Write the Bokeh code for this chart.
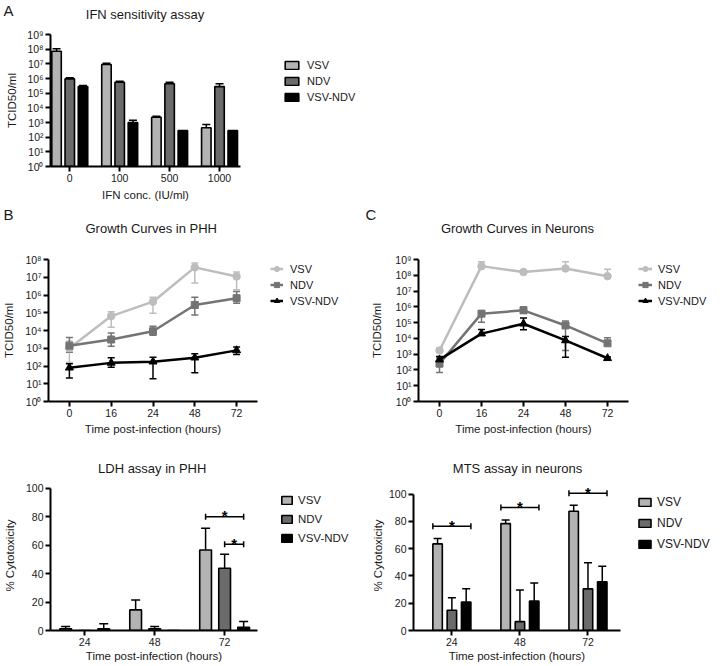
from bokeh.plotting import figure
from bokeh.models import (ColumnDataSource, Whisker, TeeHead, Label, Legend, LegendItem,
                          FixedTicker, Range1d)
from bokeh.layouts import column, row
from bokeh.embed import file_html
from bokeh.resources import INLINE
from bokeh.core.properties import value

# ---------------- data ----------------
series_names = ["VSV", "NDV", "VSV-NDV"]

ifn_conc = ["0", "100", "500", "1000"]
ifn_vsv = [7.2e7, 9.0e6, 2.3e3, 4.4e2]
ifn_vsv_hi = [1.05e8, 1.1e7, 2.7e3, 7.2e2]
ifn_ndv = [9.5e5, 5.6e5, 4.4e5, 2.8e5]
ifn_ndv_hi = [1.12e6, 6.5e5, 5.6e5, 4.4e5]
ifn_vn = [2.8e5, 1.0e3, 2.8e2, 2.8e2]
ifn_vn_hi = [3.3e5, 1.4e3, 2.8e2, 2.8e2]

hours = ["0", "16", "24", "48", "72"]
phh_vsv = [1.0e3, 6.5e4, 4.2e5, 3.6e7, 1.1e7]
phh_vsv_hi = [2.5e3, 1.15e5, 7.4e5, 6.3e7, 2.0e7]
phh_vsv_lo = [1.6e2, 1.5e4, 9.3e4, 4.7e6, 1.95e6]
phh_ndv = [1.4e3, 3.1e3, 9.1e3, 2.75e5, 6.6e5]
phh_ndv_hi = [4.0e3, 7.2e3, 1.74e4, 7.4e5, 1.55e6]
phh_ndv_lo = [6.0e2, 1.3e3, 5.4e3, 7.4e4, 3.4e5]
phh_vn = [80, 150, 175, 295, 760]
phh_vn_hi = [132, 295, 316, 490, 1175]
phh_vn_lo = [21, 85, 19, 41, 447]

neu_vsv = [1.7e3, 3.8e8, 1.6e8, 2.7e8, 8.7e7]
neu_vsv_hi = [2.5e3, 7.1e8, 1.9e8, 7.1e8, 2.45e8]
neu_vsv_lo = [1.7e3, 3.8e8, 1.35e8, 2.7e8, 8.7e7]
neu_ndv = [2.5e2, 3.7e5, 6.0e5, 6.6e4, 4.9e3]
neu_ndv_hi = [5.8e2, 5.4e5, 9.8e5, 1.26e5, 1.1e4]
neu_ndv_lo = [68, 1.07e5, 4.0e5, 1.7e3, 4.9e3]
neu_vn = [4.5e2, 2.0e4, 8.5e4, 7.4e3, 5.5e2]
neu_vn_hi = [7.1e2, 3.7e4, 1.95e5, 1.3e4, 6.5e2]
neu_vn_lo = [2.2e2, 1.6e4, 3.5e4, 6.3e2, 4.3e2]

cyto_hours = ["24", "48", "72"]
ldh_vsv = [1.2, 14.5, 56.7]
ldh_vsv_hi = [2.8, 21.5, 71.9]
ldh_ndv = [0.0, 1.2, 43.8]
ldh_ndv_hi = [0.0, 2.8, 53.6]
ldh_vn = [1.2, 0.0, 2.3]
ldh_vn_hi = [4.7, 0.0, 6.3]
ldh_sig_group = [2, 2]
ldh_sig_pair = [(0, 2), (1, 2)]
ldh_sig_level = [80.1, 60.7]

mts_vsv = [63.5, 78.4, 87.5]
mts_vsv_hi = [67.4, 81.0, 91.8]
mts_ndv = [14.9, 6.5, 30.5]
mts_ndv_hi = [24.0, 29.7, 49.6]
mts_vn = [20.9, 21.6, 35.7]
mts_vn_hi = [30.7, 34.8, 47.2]
mts_sig_group = [0, 1, 2]
mts_sig_level = [76.5, 90.2, 100.7]

panel_letters = ["A", "B", "C"]
panel_titles = ["IFN sensitivity assay", "Growth Curves in PHH", "Growth Curves in Neurons",
                "LDH assay in PHH", "MTS assay in neurons"]

# ---------------- style ----------------
FONT = "Liberation Sans"
TXT = "#1a1a1a"
BAR_COLORS = ["#b3b3b3", "#6b6b6b", "#000000"]
LINE_COLORS = ["#bdbdbd", "#747474", "#000000"]
MARKERS = [("circle", 7.5), ("square", 7), ("triangle", 8)]
SUP = "⁰¹²³⁴⁵⁶⁷⁸⁹"


def blank_fig(w, h, bl=0, bt=0, bb=0, xr=None, yr=None):
    p = figure(width=w, height=h, x_range=xr or Range1d(0, w), y_range=yr or Range1d(h, 0),
               output_backend="svg", toolbar_location=None,
               x_axis_location=None, y_axis_location=None, min_border=0,
               min_border_left=bl, min_border_top=bt, min_border_bottom=bb)
    p.title_location = None
    p.grid.visible = False
    p.outline_line_color = None
    return p


def make_fig(w, h, bl, bt, br, bb, xr, yr, log):
    p = figure(width=w, height=h, x_range=xr, y_range=yr,
               y_axis_type="log" if log else "linear",
               output_backend="svg", toolbar_location=None,
               min_border_left=bl, min_border_top=bt, min_border_right=br, min_border_bottom=bb)
    p.title_location = None
    p.grid.visible = False
    p.outline_line_color = None
    for ax in (p.xaxis[0], p.yaxis[0]):
        ax.axis_line_width = 2
        ax.axis_line_color = "black"
        ax.major_tick_line_width = 2
        ax.major_tick_line_color = "black"
        ax.major_tick_out = 5
        ax.major_tick_in = 0
        ax.minor_tick_line_color = None
        ax.major_label_standoff = 2
        ax.major_label_text_font = FONT
        ax.major_label_text_font_size = "10.5px"
        ax.major_label_text_color = TXT
        ax.axis_label_text_font = FONT
        ax.axis_label_text_font_size = "11.5px"
        ax.axis_label_text_font_style = "normal"
        ax.axis_label_text_color = TXT
    return p


def log_y(p, nmax):
    ticks = [10 ** i for i in range(nmax + 1)]
    p.yaxis.ticker = FixedTicker(ticks=ticks, minor_ticks=[])
    p.yaxis.major_label_overrides = {10 ** i: "10" + SUP[i] for i in range(nmax + 1)}


def cat_x(p, cats):
    p.xaxis.ticker = FixedTicker(ticks=list(range(len(cats))), minor_ticks=[])
    p.xaxis.major_label_overrides = {i: c for i, c in enumerate(cats)}


def bar_glyph(p, src, color, width, bottom):
    return p.vbar(x="x", top="top", bottom=bottom, width=width, source=src,
                  fill_color=color, line_color="black", line_width=1.6)


def bars(p, cats, vals_list, hi_list, offsets, width, bottom, cap):
    srcs = []
    for vals, hi, color, off in zip(vals_list, hi_list, BAR_COLORS, offsets):
        xs = [i + off for i in range(len(cats))]
        src = ColumnDataSource(dict(x=xs, top=vals))
        bar_glyph(p, src, color, width, bottom)
        srcs.append(src)
        keep = [i for i in range(len(cats)) if hi[i] > vals[i]]
        if keep:
            ws = ColumnDataSource(dict(x=[xs[i] for i in keep], lo=[vals[i] for i in keep],
                                       hi=[hi[i] for i in keep]))
            p.add_layout(Whisker(base="x", lower="lo", upper="hi", source=ws,
                                 line_color="black", line_width=1.5,
                                 upper_head=TeeHead(size=cap, line_color="black", line_width=1.5),
                                 lower_head=None))
    return srcs


def line_glyphs(p, src, color, mk, ms):
    l = p.line("x", "y", source=src, line_color=color, line_width=2.5)
    m = p.scatter("x", "y", source=src, marker=mk, size=ms, fill_color=color, line_color=color)
    return [l, m]


def lines(p, cats, vals_list, hi_list, lo_list):
    xs = list(range(len(cats)))
    srcs = []
    for vals, hi, lo, color, (mk, ms) in zip(vals_list, hi_list, lo_list, LINE_COLORS, MARKERS):
        for a, b, up in ((vals, hi, True), (lo, vals, False)):
            sel = [i for i in xs if b[i] > a[i]]
            if not sel:
                continue
            ws = ColumnDataSource(dict(x=[xs[i] for i in sel], lo=[a[i] for i in sel],
                                       hi=[b[i] for i in sel]))
            head = TeeHead(size=7, line_color=color, line_width=1.5)
            p.add_layout(Whisker(base="x", lower="lo", upper="hi", source=ws,
                                 line_color=color, line_width=1.5,
                                 upper_head=head if up else None,
                                 lower_head=None if up else head))
        src = ColumnDataSource(dict(x=xs, y=vals))
        line_glyphs(p, src, color, mk, ms)
        srcs.append(src)
    return srcs


def legend_fig(w, h, bl, bt, bb, margin, srcs, kind, gw, gh, lh, sp, so, fs):
    # legend keyed to hidden copies of the chart's glyphs (same data sources)
    p = blank_fig(w, h, bl, bt, bb, Range1d(100, 101), Range1d(100, 101))
    items = []
    for i, (name, src) in enumerate(zip(series_names, srcs)):
        if kind == "bar":
            rs = [bar_glyph(p, src, BAR_COLORS[i], 0.2, 0)]
        else:
            mk, ms = MARKERS[i]
            rs = line_glyphs(p, src, LINE_COLORS[i], mk, ms)
        for r in rs:
            r.visible = False
        items.append(LegendItem(label=name, renderers=rs))
    lg = Legend(items=items, location="top_left", inactive_fill_alpha=0,
                orientation="vertical", border_line_color=None, background_fill_alpha=0,
                padding=0, margin=margin, spacing=sp, glyph_width=gw, glyph_height=gh,
                label_height=lh, label_standoff=so, label_text_font=FONT,
                label_text_font_size=fs, label_text_color=TXT, label_text_baseline="middle")
    p.add_layout(lg, "center")
    return p


def header(w, h, letters, titles):
    p = blank_fig(w, h)
    if letters:
        lx, ly, lt = zip(*letters)
        p.text(x=list(lx), y=list(ly), text=list(lt), text_font=value(FONT),
               text_font_size=value("15px"), text_align="left", text_baseline="middle",
               text_color=TXT)
    tx, ty, tt = zip(*titles)
    p.text(x=list(tx), y=list(ty), text=list(tt), text_font=value(FONT),
           text_font_size=value("13px"), text_align="center", text_baseline="middle",
           text_color=TXT)
    return p


def sig_bracket(p, x0, x1, lvl):
    s = ColumnDataSource(dict(y=[lvl], x0=[x0], x1=[x1]))
    p.add_layout(Whisker(base="y", lower="x0", upper="x1", dimension="width", source=s,
                         line_color="black", line_width=1.5, level="annotation",
                         upper_head=TeeHead(size=6, line_color="black", line_width=1.5),
                         lower_head=TeeHead(size=6, line_color="black", line_width=1.5)))
    p.add_layout(Label(x=(x0 + x1) / 2, y=lvl, text="*", text_font=FONT, text_font_size="15px",
                       text_font_style="bold", text_align="center", text_baseline="alphabetic",
                       text_color="black", y_offset=1))


# ---------------- Row 1 : panel A ----------------
hA = header(720, 22, [(3, 10, panel_letters[0])], [(144.5, 14, panel_titles[0])])

pA = make_fig(245, 182, 50, 12, 5, 38, Range1d(-0.386, 3.42), Range1d(1, 1e9), True)
log_y(pA, 9)
cat_x(pA, ifn_conc)
pA.xaxis.axis_label = "IFN conc. (IU/ml)"
pA.yaxis.axis_label = "TCID50/ml"
pA.xaxis.axis_label_standoff = 4
pA.yaxis.axis_label_standoff = 6
sA = bars(pA, ifn_conc, [ifn_vsv, ifn_ndv, ifn_vn], [ifn_vsv_hi, ifn_ndv_hi, ifn_vn_hi],
          [-0.265, 0.0, 0.265], 0.19, 1, 8)
lA = legend_fig(475, 182, 14, 12, 38, 24, sA, "bar", 17, 10, 13, 3, 7, "11px")

# ---------------- Row 2 : panels B, C ----------------
h2 = header(720, 36, [(3, 10, panel_letters[1]), (365, 10, panel_letters[2])],
            [(150.7, 24, panel_titles[1]), (517, 24, panel_titles[2])])

pB = make_fig(262, 200, 45, 19, 5, 39, Range1d(-0.5, 4.5), Range1d(1, 1e8), True)
log_y(pB, 8)
cat_x(pB, hours)
pB.xaxis.axis_label = "Time post-infection (hours)"
pB.yaxis.axis_label = "TCID50/ml"
pB.xaxis.axis_label_standoff = 3
pB.yaxis.axis_label_standoff = 7
sB = lines(pB, hours, [phh_vsv, phh_ndv, phh_vn], [phh_vsv_hi, phh_ndv_hi, phh_vn_hi],
           [phh_vsv_lo, phh_ndv_lo, phh_vn_lo])
lB = legend_fig(106, 200, 5, 19, 39, 3, sB, "line", 13, 13, 13, 3, 7, "11px")

pC = make_fig(265, 200, 47, 19, 5, 39, Range1d(-0.5, 4.5), Range1d(1, 1e9), True)
log_y(pC, 9)
cat_x(pC, hours)
pC.xaxis.axis_label = "Time post-infection (hours)"
pC.yaxis.axis_label = "TCID50/ml"
pC.xaxis.axis_label_standoff = 3
pC.yaxis.axis_label_standoff = 9
sC = lines(pC, hours, [neu_vsv, neu_ndv, neu_vn], [neu_vsv_hi, neu_ndv_hi, neu_vn_hi],
           [neu_vsv_lo, neu_ndv_lo, neu_vn_lo])
lC = legend_fig(87, 200, 2, 19, 39, 3, sC, "line", 14, 13, 13, 3, 6, "11px")

# ---------------- Row 3 : panels D, E ----------------
h3 = header(720, 38, [], [(151.7, 28, panel_titles[3]), (517, 28, panel_titles[4])])

pD = make_fig(262, 186, 45, 2, 5, 33, Range1d(-0.489, 2.47), Range1d(0, 105.6), False)
pD.yaxis.ticker = FixedTicker(ticks=[0, 20, 40, 60, 80, 100], minor_ticks=[])
pD.yaxis.bounds = (0, 100)
cat_x(pD, cyto_hours)
pD.xaxis.axis_label = "Time post-infection (hours)"
pD.yaxis.axis_label = "% Cytotoxicity"
pD.xaxis.axis_label_standoff = 1
pD.yaxis.axis_label_standoff = 7
offD = [-0.272, 0.0, 0.272]
sD = bars(pD, cyto_hours, [ldh_vsv, ldh_ndv, ldh_vn], [ldh_vsv_hi, ldh_ndv_hi, ldh_vn_hi],
          offD, 0.168, 0, 9)
for g, (a, b), lvl in zip(ldh_sig_group, ldh_sig_pair, ldh_sig_level):
    sig_bracket(pD, g + offD[a], g + offD[b], lvl)
lD = legend_fig(106, 186, 5, 2, 33, 13, sD, "bar", 13, 10, 13, 6, 5, "11.5px")

pE = make_fig(253, 186, 40, 2, 1, 33, Range1d(-0.564, 2.478), Range1d(0, 110), False)
pE.yaxis.ticker = FixedTicker(ticks=[0, 20, 40, 60, 80, 100], minor_ticks=[])
pE.yaxis.bounds = (0, 100)
cat_x(pE, cyto_hours)
pE.xaxis.axis_label = "Time post-infection (hours)"
pE.yaxis.axis_label = "% Cytotoxicity"
pE.xaxis.axis_label_standoff = 1
pE.yaxis.axis_label_standoff = 2
offE = [-0.21, 0.0, 0.21]
wE = 0.139
sE = bars(pE, cyto_hours, [mts_vsv, mts_ndv, mts_vn], [mts_vsv_hi, mts_ndv_hi, mts_vn_hi],
          offE, wE, 0, 8)
for g, lvl in zip(mts_sig_group, mts_sig_level):
    sig_bracket(pE, g + offE[0] - wE / 2, g + offE[2] + wE / 2, lvl)
lE = legend_fig(99, 186, 1, 2, 33, 15, sE, "bar", 15, 10, 13, 7, 5, "12px")

layout = column(hA, row(pA, lA), h2, row(pB, lB, pC, lC), h3, row(pD, lD, pE, lE))
open("out.html", "w").write(file_html(layout, INLINE))
